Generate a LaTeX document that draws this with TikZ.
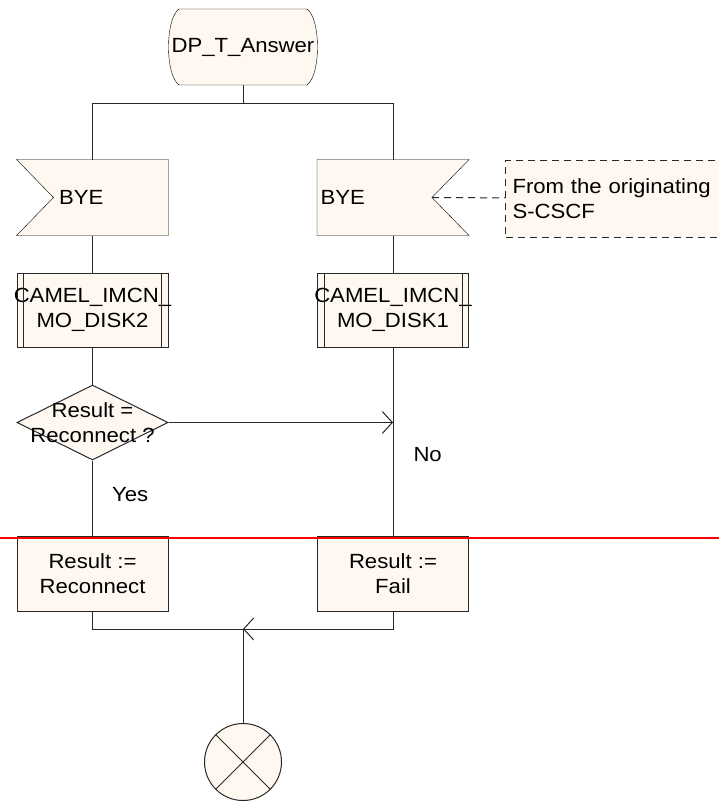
\documentclass[tikz,border=0pt]{standalone}
\usepackage{fontspec}
\setmainfont{Liberation Sans}[FakeStretch=1.08]
\usetikzlibrary{arrows.meta,shapes.geometric,backgrounds}

\definecolor{cream}{RGB}{255,248,240}
\definecolor{ink}{RGB}{40,40,40}
\newcommand{\flowfont}{\fontsize{20.5}{24.5}\selectfont}

\begin{document}
\begin{tikzpicture}[x=1pt,y=-1pt,line width=1pt,draw=ink,
  >={Straight Barb[length=10pt,width=22pt]},
  every node/.style={font=\flowfont,inner sep=0pt},
  box/.style={rectangle,minimum width=151pt,minimum height=75pt},
  task/.style={box,draw,fill=cream},
  sigbox/.style={box,text width=151pt-2*#1,inner xsep=#1,align=left},
  call/.style={task,minimum height=74pt},
  decision/.style={diamond,draw,fill=cream,minimum width=151pt,minimum height=75pt,aspect=2},
  txt/.style={label={[align=center,font=\flowfont]center:#1}}]

  \tikzstyle{sigline} = [draw,fill=cream]

  \useasboundingbox (0,0) rectangle (719,801);

  \node[box] (start) at (243,47) {DP\_T\_Answer};
  \node[sigbox=42pt] (byeL) at (92.5,197.5) {BYE};
  \node[sigbox=3pt] (byeR) at (393,197.5) {BYE};
  \node[call,txt={CAMEL\_IMCN\_\\MO\_DISK2}] (disk2) at (92.5,310) {};
  \node[call,txt={CAMEL\_IMCN\_\\MO\_DISK1}] (disk1) at (393,310) {};
  \node[decision,txt={Result =\\Reconnect ?}] (dec) at (92.5,422.5) {};
  \node[task,align=center] (res1) at (92.5,573.5) {Result :=\\Reconnect};
  \node[task,align=center] (res2) at (393,573.5) {Result :=\\Fail};
  \node[circle,draw,fill=cream,minimum size=77pt,
    path picture={\draw (path picture bounding box.north west) -- (path picture bounding box.south east)
      (path picture bounding box.north east) -- (path picture bounding box.south west);}] (stop) at (243,762) {};
  \node[rectangle,draw,dash pattern=on 7pt off 5pt,fill=cream,anchor=west,minimum width=240pt,
    minimum height=77pt,text width=226pt,inner xsep=7pt,align=left] (note) at (505,198.5)
    {From the originating\\S-CSCF};

  % outlines behind the texts
  \begin{scope}[on background layer]
    \path[sigline] ([xshift=12pt]start.north west) -- ([xshift=-12pt]start.north east)
      .. controls ([xshift=2pt,yshift=-10pt]start.north east) and ([xshift=2pt,yshift=10pt]start.south east) .. ([xshift=-12pt]start.south east)
      -- ([xshift=12pt]start.south west)
      .. controls ([xshift=-2pt,yshift=10pt]start.south west) and ([xshift=-2pt,yshift=-10pt]start.north west) .. cycle;
    \path[sigline] (byeL.north west) -- (byeL.north east) -- (byeL.south east) -- (byeL.south west)
      -- ([xshift=37pt]byeL.west) -- cycle;
    \path[sigline] (byeR.north west) -- (byeR.north east) -- ([xshift=-37pt]byeR.east)
      -- (byeR.south east) -- (byeR.south west) -- cycle;
  \end{scope}
  \foreach \n in {disk1,disk2}
    \draw ([xshift=7pt]\n.north west) -- ([xshift=7pt]\n.south west)
      ([xshift=-7pt]\n.north east) -- ([xshift=-7pt]\n.south east);

  \coordinate (split) at (243,103);
  \coordinate (merge) at (243,629);
  \coordinate (byeRtip) at ([xshift=-37pt]byeR.east);

  \draw (start) -- (split);
  \draw (split) -| (byeL);
  \draw (split) -| (byeR);
  \draw (byeL) -- (disk2);
  \draw (byeR) -- (disk1);
  \draw (disk2) -- (dec);
  \draw (dec) -- node[pos=0.45,anchor=west,xshift=19pt] {Yes} (res1);
  \draw (disk1) -- node[pos=0.57,anchor=west,xshift=20pt] {No} (res2);
  \draw[->] (dec.east) -- (dec.east -| disk1.south);
  \draw (res1) |- (merge);
  \draw[->] (res2) |- (merge);
  \draw (merge) -- (stop);
  \draw[dash pattern=on 7pt off 5pt] (byeRtip) -- (note);

  \draw[red,line width=2pt] (0,538) -- (719,538);
\end{tikzpicture}
\end{document}
